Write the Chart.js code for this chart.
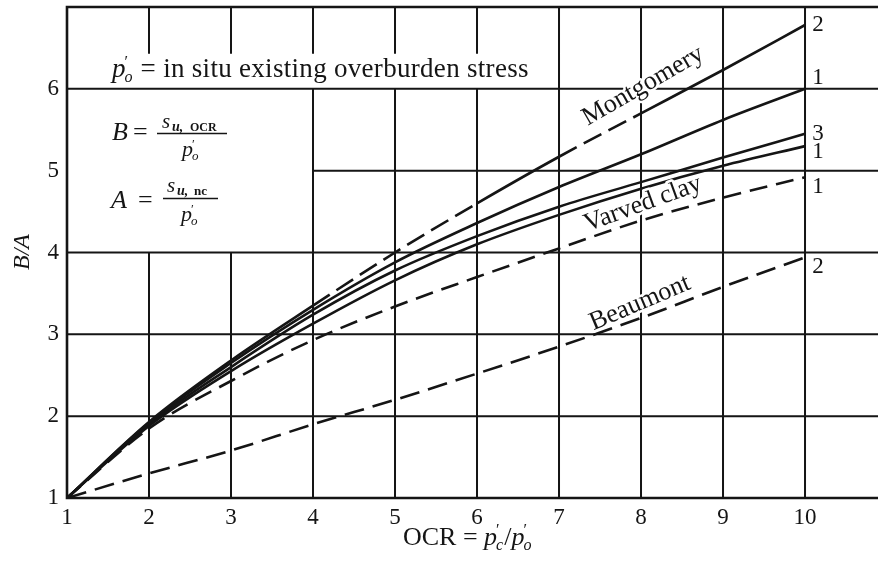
<!DOCTYPE html>
<html>
<head>
<meta charset="utf-8">
<script src="https://cdn.jsdelivr.net/npm/chart.js@4.4.1/dist/chart.umd.min.js"></script>
<style>
  html, body { margin: 0; padding: 0; background: #fff; }
  #wrap { width: 878px; height: 569px; }
</style>
</head>
<body>
<div id="wrap"><canvas id="ocrChart"></canvas></div>
<script>
// B/A against OCR
const ocr = [1, 2, 3, 4, 5, 6, 7, 8, 9, 10];
const montgomery2 = [1, 1.93, 2.68, 3.35, 4.0, 4.6, 5.17, 5.7, 6.23, 6.78];
const curve1Upper = [1, 1.92, 2.65, 3.3, 3.88, 4.36, 4.8, 5.2, 5.62, 6.0];
const curve3 = [1, 1.9, 2.6, 3.24, 3.78, 4.2, 4.56, 4.86, 5.16, 5.45];
const curve1Lower = [1, 1.88, 2.55, 3.13, 3.66, 4.1, 4.46, 4.78, 5.06, 5.3];
const varvedClay1 = [1, 1.85, 2.43, 2.93, 3.34, 3.7, 4.05, 4.39, 4.67, 4.92];
const beaumont2 = [1, 1.3, 1.58, 1.9, 2.2, 2.52, 2.85, 3.2, 3.58, 3.94];
const endLabels = ['2', '1', '3', '1', '1', '2'];
const xTicks = [1, 2, 3, 4, 5, 6, 7, 8, 9, 10];
const yTicks = [1, 2, 3, 4, 5, 6];

const INK = '#151515';
const SERIF = '"Liberation Serif", "DejaVu Serif", serif';

function pts(ys) {
    return ocr.map((x, i) => ({ x: x, y: ys[i] }));
}

function curve(label, ys, dash, segment) {
    const ds = {
        label: label,
        data: pts(ys),
        borderColor: INK,
        borderWidth: 2.6,
        pointRadius: 0,
        fill: false,
        cubicInterpolationMode: 'monotone',
        borderDash: dash || []
    };
    if (segment) ds.segment = segment;
    return ds;
}

// draws p'o style symbol, returns new x
function pPrime(ctx, x, y, size, sub) {
    ctx.font = 'italic ' + size + 'px ' + SERIF;
    ctx.fillText('p', x, y);
    let cx = x + ctx.measureText('p').width;
    ctx.font = Math.round(size * 0.6) + 'px ' + SERIF;
    ctx.fillText('\u2032', cx - 1, y - size * 0.38);
    ctx.font = 'italic ' + Math.round(size * 0.6) + 'px ' + SERIF;
    ctx.fillText(sub, cx - 1, y + size * 0.2);
    return cx - 1 + ctx.measureText(sub).width + 1;
}

const gridPlugin = {
    id: 'paperGrid',
    beforeDatasetsDraw(chart) {
        const { ctx, chartArea: a, scales: { x, y } } = chart;
        const X = v => x.getPixelForValue(v);
        const Y = v => y.getPixelForValue(v);
        const xEnd = x.max;
        // vertical lines: [x, from, to]
        const vert = [
            [2, 1, 4], [2, 6.43, 7], [3, 1, 4], [3, 6.43, 7],
            [4, 1, 6], [4, 6.43, 7], [5, 1, 6], [5, 6.43, 7], [6, 1, 6], [6, 6.43, 7],
            [7, 1, 7], [8, 1, 7], [9, 1, 7], [10, 1, 7]
        ];
        const horiz = [[2, 1, xEnd], [3, 1, xEnd], [4, 1, xEnd], [5, 4, xEnd], [6, 1, xEnd]];
        ctx.save();
        ctx.strokeStyle = INK;
        ctx.lineWidth = 2;
        ctx.beginPath();
        vert.forEach(s => { ctx.moveTo(X(s[0]), Y(s[1])); ctx.lineTo(X(s[0]), Y(s[2])); });
        horiz.forEach(s => { ctx.moveTo(X(s[1]), Y(s[0])); ctx.lineTo(X(s[2]), Y(s[0])); });
        ctx.stroke();
        // frame
        ctx.lineWidth = 2.6;
        ctx.beginPath();
        ctx.moveTo(a.right, a.top); ctx.lineTo(a.left, a.top);
        ctx.lineTo(a.left, a.bottom); ctx.lineTo(a.right, a.bottom);
        ctx.stroke();
        ctx.restore();
    }
};

const textPlugin = {
    id: 'paperText',
    afterDatasetsDraw(chart) {
        const { ctx, scales: { x, y } } = chart;
        ctx.save();
        ctx.fillStyle = INK;
        ctx.strokeStyle = INK;
        ctx.textBaseline = 'alphabetic';
        ctx.textAlign = 'left';

        // p'o = in situ ...
        let cx = pPrime(ctx, 112, 77, 27, 'o');
        ctx.font = '27px ' + SERIF;
        ctx.letterSpacing = '0.3px';
        ctx.fillText(' = in situ existing overburden stress', cx, 77);
        ctx.letterSpacing = '0px';

        // B = s_u,OCR / p'o
        ctx.font = 'italic 26px ' + SERIF;
        ctx.fillText('B', 112, 140);
        ctx.font = '26px ' + SERIF;
        ctx.fillText('=', 133, 140);
        ctx.lineWidth = 1.6;
        ctx.beginPath(); ctx.moveTo(157, 133.5); ctx.lineTo(227, 133.5); ctx.stroke();
        ctx.font = 'italic 21px ' + SERIF;
        ctx.fillText('s', 162, 128);
        ctx.font = 'italic bold 14px ' + SERIF;
        ctx.fillText('u,', 172, 131);
        ctx.font = 'bold 12px ' + SERIF;
        ctx.fillText('OCR', 190, 131);
        pPrime(ctx, 182, 156, 22, 'o');

        // A = s_u,nc / p'o
        ctx.font = 'italic 26px ' + SERIF;
        ctx.fillText('A', 111, 208);
        ctx.font = '26px ' + SERIF;
        ctx.fillText('=', 138, 208);
        ctx.beginPath(); ctx.moveTo(163, 198.5); ctx.lineTo(218, 198.5); ctx.stroke();
        ctx.font = 'italic 21px ' + SERIF;
        ctx.fillText('s', 167, 192);
        ctx.font = 'italic bold 14px ' + SERIF;
        ctx.fillText('u,', 177, 195);
        ctx.font = 'bold 13px ' + SERIF;
        ctx.fillText('nc', 194, 195);
        pPrime(ctx, 181, 221, 22, 'o');

        // axis titles
        cx = 403;
        ctx.font = '26px ' + SERIF;
        ctx.fillText('OCR = ', cx, 545);
        cx += ctx.measureText('OCR = ').width;
        cx = pPrime(ctx, cx, 545, 26, 'c');
        ctx.font = '26px ' + SERIF;
        ctx.fillText('/', cx, 545);
        cx += ctx.measureText('/').width;
        pPrime(ctx, cx, 545, 26, 'o');

        ctx.save();
        ctx.translate(29, 252);
        ctx.rotate(-Math.PI / 2);
        ctx.textAlign = 'center';
        ctx.font = 'italic 24px ' + SERIF;
        ctx.fillText('B/A', 0, 0);
        ctx.restore();

        // curve names, white halo masks the grid
        const names = [
            ['Montgomery', 643, 86, -30],
            ['Varved clay', 643, 204, -20],
            ['Beaumont', 640, 303, -23]
        ];
        ctx.font = '26px ' + SERIF;
        ctx.textAlign = 'center';
        ctx.textBaseline = 'middle';
        names.forEach(n => {
            ctx.save();
            ctx.translate(n[1], n[2]);
            ctx.rotate(n[3] * Math.PI / 180);
            ctx.strokeStyle = '#fff';
            ctx.lineWidth = 5;
            ctx.lineJoin = 'round';
            ctx.strokeText(n[0], 0, 0);
            ctx.fillText(n[0], 0, 0);
            ctx.restore();
        });

        // end numbers
        const dy = [0, -11, 0, 6, 10, 10];
        ctx.font = '23px ' + SERIF;
        ctx.textAlign = 'center';
        chart.data.datasets.forEach((ds, i) => {
            const last = ds.data[ds.data.length - 1];
            ctx.fillText(endLabels[i], x.getPixelForValue(last.x) + 13, y.getPixelForValue(last.y) + dy[i]);
        });
        ctx.restore();
    }
};

const tickFont = { family: SERIF, size: 23 };

new Chart(document.getElementById('ocrChart'), {
    type: 'line',
    data: {
        datasets: [
            curve('Montgomery', montgomery2, null, {
                borderDash: c => {
                    const x0 = c.p0.parsed.x;
                    return ((x0 >= 4 && x0 < 6) || (x0 >= 7 && x0 < 8)) ? [20, 8] : [];
                }
            }),
            curve('1', curve1Upper),
            curve('3', curve3),
            curve('1', curve1Lower),
            curve('Varved clay', varvedClay1, [18, 9]),
            curve('Beaumont', beaumont2, [20, 9])
        ]
    },
    options: {
        responsive: true,
        maintainAspectRatio: false,
        animation: false,
        layout: { padding: { top: 7, right: 0, left: 0, bottom: 0 } },
        plugins: { legend: { display: false }, tooltip: { enabled: false } },
        scales: {
            x: {
                type: 'linear',
                min: 1,
                max: 10.89,
                grid: { display: false, drawTicks: false },
                border: { display: false },
                ticks: { font: tickFont, color: INK, padding: 6, maxRotation: 0 },
                afterBuildTicks: s => { s.ticks = xTicks.map(v => ({ value: v })); },
                afterFit: s => { s.height = 71; s.paddingLeft = 0; s.paddingRight = 0; }
            },
            y: {
                type: 'linear',
                min: 1,
                max: 7,
                grid: { display: false, drawTicks: false },
                border: { display: false },
                ticks: { font: tickFont, color: INK, padding: 8 },
                afterBuildTicks: s => { s.ticks = yTicks.map(v => ({ value: v })); },
                afterFit: s => { s.width = 67; s.paddingTop = 0; s.paddingBottom = 0; }
            }
        }
    },
    plugins: [gridPlugin, textPlugin]
});
</script>
</body>
</html>
